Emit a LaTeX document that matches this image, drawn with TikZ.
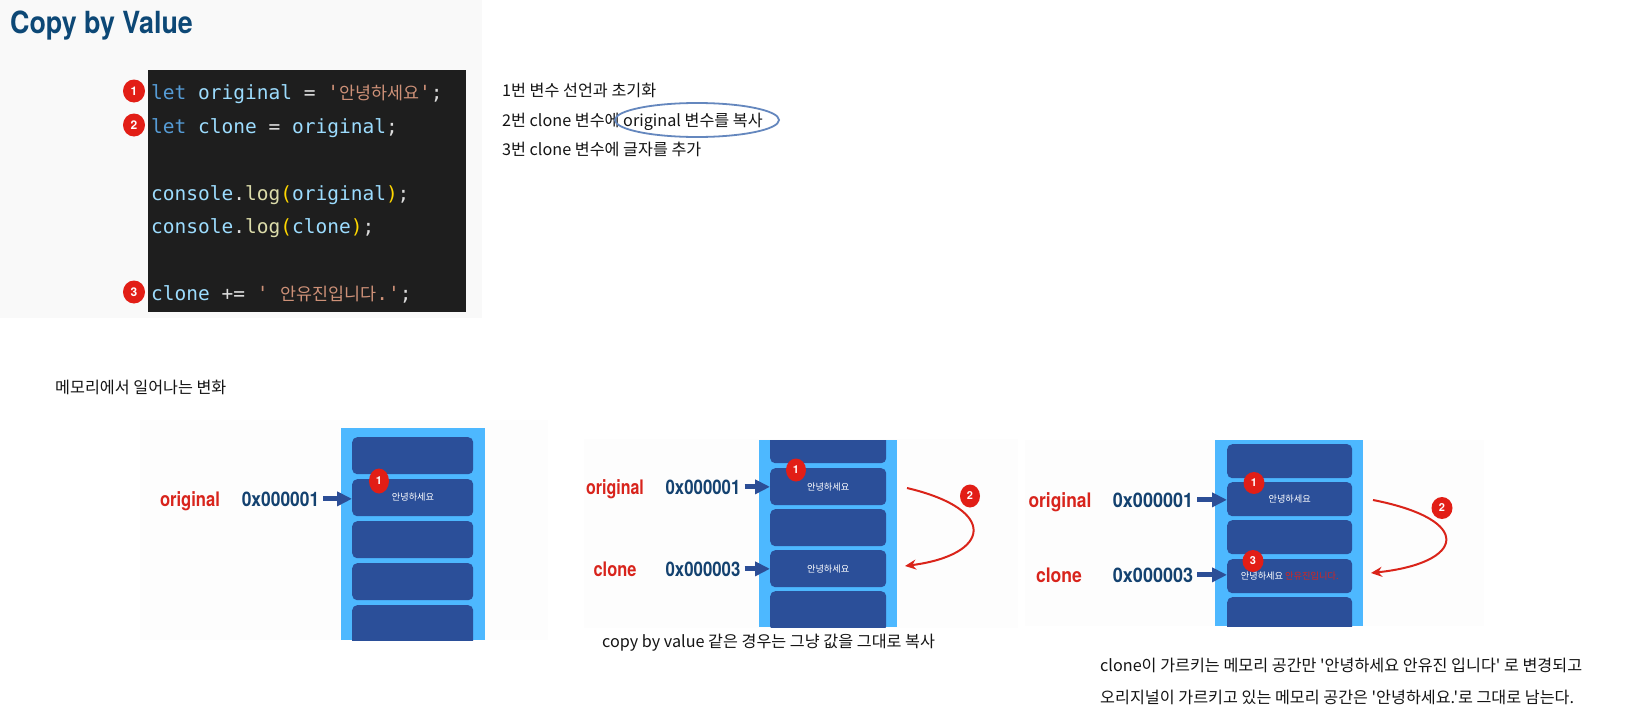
\documentclass[tikz,border=0pt]{standalone}
\usepackage{fontspec}
\usepackage{graphicx}
\usetikzlibrary{arrows.meta,shapes.geometric}
\newfontfamily\kr{Noto Sans CJK KR}
\newfontfamily\hel{TeX Gyre Heros}
\newfontfamily\mono{DejaVu Sans Mono}
\definecolor{titleblue}{RGB}{13,72,118}
\definecolor{codebg}{RGB}{30,30,30}
\definecolor{kw}{RGB}{86,156,214}
\definecolor{idc}{RGB}{156,220,254}
\definecolor{opc}{RGB}{220,220,220}
\definecolor{strc}{RGB}{206,145,120}
\definecolor{fnc}{RGB}{220,220,170}
\definecolor{parc}{RGB}{255,215,0}
\definecolor{numred}{RGB}{226,30,22}
\definecolor{ellcol}{RGB}{100,135,190}
\definecolor{colblue}{RGB}{77,184,255}
\definecolor{slotblue}{RGB}{43,79,153}
\definecolor{lblred}{RGB}{216,36,28}
\definecolor{addrnavy}{RGB}{20,66,112}
\definecolor{ptrblue}{RGB}{44,78,150}
\definecolor{curvered}{RGB}{218,36,26}
\definecolor{bgA}{RGB}{249,249,249}
\definecolor{bgD}{RGB}{253,253,253}
\definecolor{txt}{RGB}{20,20,20}
\newcommand{\krc}{\kr\fontsize{17.4}{17.4}\selectfont}
\begin{document}
\begin{tikzpicture}[x=1pt,y=-1pt,
  krtext/.style={anchor=base west, inner sep=0, text=txt, font=\kr\fontsize{16.2}{18}\selectfont},
  codeline/.style={anchor=base west, inner sep=0, font=\mono\fontsize{19.5}{19.5}\selectfont},
  codenum/.style={ellipse, fill=numred, text=white, inner sep=0, minimum width=22, minimum height=23, font=\hel\bfseries\fontsize{12}{12}\selectfont},
  num/.style={ellipse, fill=numred, text=white, inner sep=0, minimum width=20, minimum height=23, font=\hel\bfseries\fontsize{11}{11}\selectfont},
  col/.style={fill=colblue, anchor=north west, inner sep=0},
  slot/.style={fill=slotblue, rounded corners=5pt, anchor=north west, inner sep=0},
  slottxt/.style={text=white, font=\kr\fontsize{9.2}{9.2}\selectfont},
  varlbl/.style={anchor=base, inner sep=0, text=lblred, font=\hel\bfseries\fontsize{20}{20}\selectfont},
  addrlbl/.style={anchor=base, inner sep=0, text=addrnavy, font=\hel\bfseries\fontsize{20}{20}\selectfont},
  ptr/.style={draw=ptrblue, line width=5pt, shorten <=4pt, -{Triangle[length=15pt,width=14pt]}},
  copyarr/.style={draw=curvered, line width=2pt, -{Stealth[length=11pt,width=10pt]}}
]
\useasboundingbox (0,0) rectangle (1628,728);
\fill[white] (0,0) rectangle (1628,728);
\fill[bgA] (0,0) rectangle (482,318);

% title
\node[anchor=base west, inner sep=0, text=titleblue, font=\hel\bfseries\fontsize{30.5}{30.5}\selectfont] (title) at (10,34) {\scalebox{0.88}[1]{Copy by Value}};

% code block
\node[fill=codebg, anchor=north west, inner sep=0, minimum width=318, minimum height=242] (code) at (148,70) {};
\node[codeline] (c1) at (151,99) {\textcolor{kw}{let} \textcolor{idc}{original} \textcolor{opc}{=} \textcolor{strc}{'{\krc 안녕하세요}'}\textcolor{opc}{;}};
\node[codeline] (c2) at (151,133) {\textcolor{kw}{let} \textcolor{idc}{clone} \textcolor{opc}{=} \textcolor{idc}{original}\textcolor{opc}{;}};
\node[codeline] (c4) at (151,200) {\textcolor{idc}{console}\textcolor{opc}{.}\textcolor{fnc}{log}\textcolor{parc}{(}\textcolor{idc}{original}\textcolor{parc}{)}\textcolor{opc}{;}};
\node[codeline] (c5) at (151,233) {\textcolor{idc}{console}\textcolor{opc}{.}\textcolor{fnc}{log}\textcolor{parc}{(}\textcolor{idc}{clone}\textcolor{parc}{)}\textcolor{opc}{;}};
\node[codeline] (c7) at (151,300) {\textcolor{idc}{clone} \textcolor{opc}{+=} \textcolor{strc}{' {\krc 안유진입니다}.'}\textcolor{opc}{;}};
\node[codenum] (cn1) at (134,91) {1};
\node[codenum] (cn2) at (134,125) {2};
\node[codenum] (cn3) at (134,292) {3};

% explanation
\node[krtext] (e1) at (502,96) {1번 변수 선언과 초기화};
\node[krtext] (e2) at (502,126) {2번 clone 변수에 original 변수를 복사};
\node[krtext] (e3) at (502,155) {3번 clone 변수에 글자를 추가};
\draw[ellcol, line width=1.8pt] (697,120) ellipse [x radius=82, y radius=17];

\node[krtext] (mh) at (55,393) {메모리에서 일어나는 변화};

% ---------- diagram 1
\fill[bgD] (140,420) rectangle (548,640);
\node[col, minimum width=144, minimum height=212] (m1) at (341,428) {};
\begin{scope}
\clip (341,428) rectangle (485,640);
\node[slot, minimum width=121, minimum height=37] (s11) at (352,437) {};
\node[slot, minimum width=121, minimum height=37] (s12) at (352,479) {};
\node[slot, minimum width=121, minimum height=37] (s13) at (352,521) {};
\node[slot, minimum width=121, minimum height=37] (s14) at (352,563) {};
\node[slot, minimum width=121, minimum height=42] (s15) at (352,605) {};
\end{scope}
\node[slottxt] (t12) at (413,497) {안녕하세요};
\node[varlbl] (v1) at (190,506) {\scalebox{0.83}[1]{original}};
\node[addrlbl] (a1) at (280.5,506) {\scalebox{0.87}[1]{0x000001}};
\draw[ptr] (a1.east) -- (a1.east -| s12.west);
\node[num, minimum height=25] (n11) at (379,481) {1};

% ---------- diagram 2
\fill[bgD] (584,439) rectangle (1018,628);
\node[col, minimum width=138, minimum height=187] (m2) at (759,440) {};
\begin{scope}
\clip (759,440) rectangle (897,627);
\node[slot, minimum width=116, minimum height=33] (s21) at (770,430) {};
\node[slot, minimum width=116, minimum height=37] (s22) at (770,468) {};
\node[slot, minimum width=116, minimum height=37] (s23) at (770,509) {};
\node[slot, minimum width=116, minimum height=37] (s24) at (770,550) {};
\node[slot, minimum width=116, minimum height=40] (s25) at (770,591) {};
\end{scope}
\node[slottxt] (t22) at (s22.center) {안녕하세요};
\node[slottxt] (t24) at (s24.center) {안녕하세요};
\node[varlbl] (v21) at (615,494) {\scalebox{0.8}[1]{original}};
\node[addrlbl] (a21) at (703,494) {\scalebox{0.84}[1]{0x000001}};
\node[varlbl] (v22) at (615,576) {\scalebox{0.82}[1]{clone}};
\node[addrlbl] (a22) at (703,576) {\scalebox{0.84}[1]{0x000003}};
\draw[ptr] (a21.east) -- (a21.east -| s22.west);
\draw[ptr] (a22.east) -- (a22.east -| s24.west);
\node[num] (n21) at (796,470) {1};
\coordinate (d2a) at (907,488);
\coordinate (d2b) at (905,566);
\draw[copyarr] (d2a) .. controls (1000,510) and (990,555) .. (d2b);
\node[num] (n22) at (970,496) {2};
\node[krtext] (cap2) at (602,647) {copy by value 같은 경우는 그냥 값을 그대로 복사};

% ---------- diagram 3
\fill[bgD] (1025,440) rectangle (1484,626);
\node[col, minimum width=148, minimum height=186] (m3) at (1215,440) {};
\begin{scope}
\clip (1215,440) rectangle (1363,626);
\node[slot, minimum width=125, minimum height=34] (s31) at (1227,444) {};
\node[slot, minimum width=125, minimum height=34] (s32) at (1227,482) {};
\node[slot, minimum width=125, minimum height=34] (s33) at (1227,520) {};
\node[slot, minimum width=125, minimum height=34] (s34) at (1227,559) {};
\node[slot, minimum width=125, minimum height=36] (s35) at (1227,597) {};
\end{scope}
\node[slottxt] (t32) at (s32.center) {안녕하세요};
\node[slottxt] (t34) at (s34.center) {안녕하세요 \textcolor{lblred}{안유진입니다.}};
\node[varlbl] (v31) at (1060,507) {\scalebox{0.87}[1]{original}};
\node[addrlbl] (a31) at (1153,507) {\scalebox{0.9}[1]{0x000001}};
\node[varlbl] (v32) at (1059,582) {\scalebox{0.88}[1]{clone}};
\node[addrlbl] (a32) at (1153,582) {\scalebox{0.9}[1]{0x000003}};
\draw[ptr] (a31.east) -- (a31.east -| s32.west);
\draw[ptr] (a32.east) -- (a32.east -| s34.west);
\node[num, minimum width=21, minimum height=22] (n31) at (1254,483) {1};
\node[num, minimum width=21, minimum height=22] (n33) at (1253,561) {3};
\coordinate (d3a) at (1373,500);
\coordinate (d3b) at (1371,573);
\draw[copyarr] (d3a) .. controls (1475,520) and (1465,563) .. (d3b);
\node[num, minimum width=21, minimum height=22] (n32) at (1442,508) {2};

\node[krtext] (b1) at (1100,671) {clone이 가르키는 메모리 공간만 '안녕하세요 안유진 입니다' 로 변경되고};
\node[krtext] (b2) at (1100,703) {오리지널이 가르키고 있는 메모리 공간은 '안녕하세요.'로 그대로 남는다.};
\end{tikzpicture}
\end{document}
